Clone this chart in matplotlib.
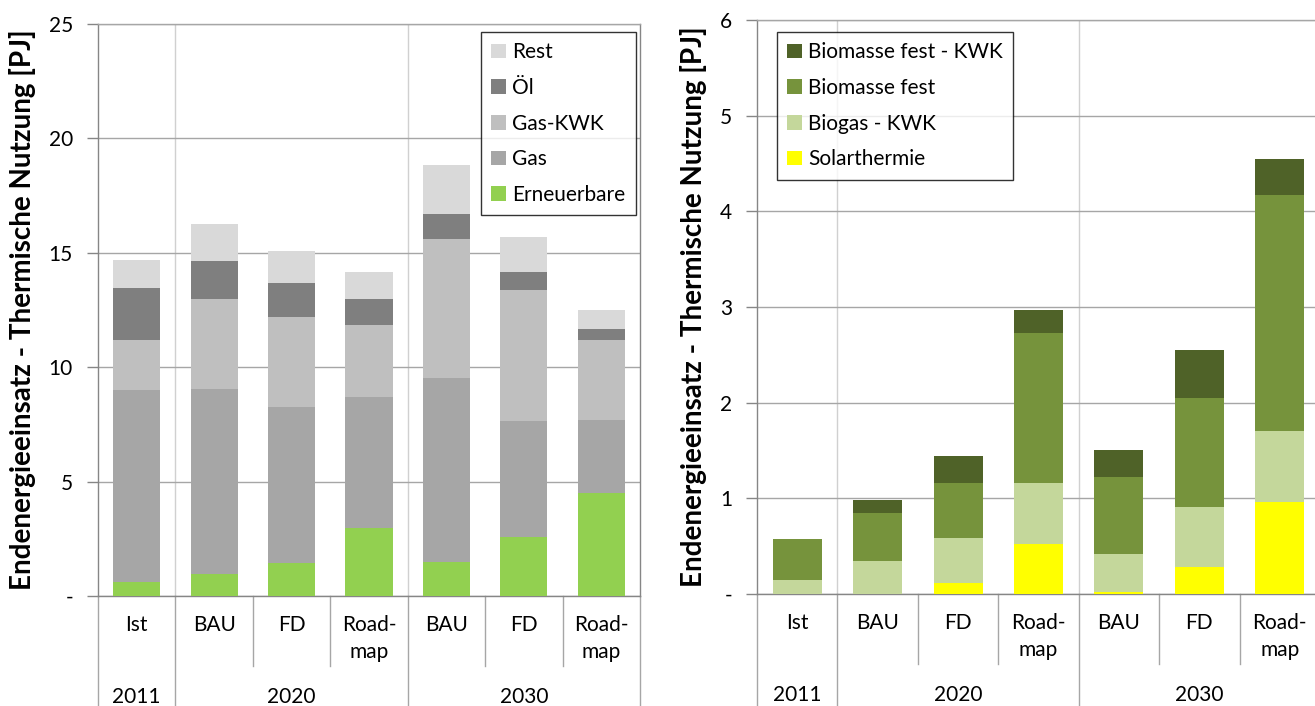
import numpy as np
import matplotlib.pyplot as plt
from matplotlib.transforms import blended_transform_factory

plt.rcParams['font.family'] = ['Lato', 'DejaVu Sans']

# category axis (two levels)
sub_labels = ['Ist', 'BAU', 'FD', 'Road-\nmap', 'BAU', 'FD', 'Road-\nmap']
years = ['2011', '2020', '2030']
year_spans = [(0, 0), (1, 3), (4, 6)]

# left chart: total thermal use [PJ]
erneuerbare = [0.60, 0.96, 1.46, 2.99, 1.50, 2.56, 4.51]
gas = [8.42, 8.08, 6.81, 5.71, 8.03, 5.08, 3.17]
gas_kwk = [2.18, 3.95, 3.92, 3.13, 6.06, 5.73, 3.52]
oel = [2.24, 1.64, 1.47, 1.14, 1.10, 0.78, 0.45]
rest = [1.25, 1.65, 1.40, 1.18, 2.13, 1.54, 0.87]

# right chart: renewables split [PJ]
solarthermie = [0.00, 0.00, 0.11, 0.52, 0.02, 0.28, 0.96]
biogas_kwk = [0.15, 0.34, 0.48, 0.64, 0.40, 0.63, 0.74]
biomasse_fest = [0.42, 0.51, 0.57, 1.57, 0.80, 1.14, 2.47]
biomasse_fest_kwk = [0.00, 0.13, 0.28, 0.24, 0.28, 0.50, 0.38]

W, H = 1315, 706
fig = plt.figure(figsize=(W / 100, H / 100), dpi=100)

GRID = '#a6a6a6'
SPINE = '#868686'
FS = 15


def px_axes(x0, y_top, x1, y_bot):
    return fig.add_axes([x0 / W, (H - y_bot) / H, (x1 - x0) / W, (y_bot - y_top) / H])


def stacked(ax, series, colors, labels):
    x = np.arange(len(sub_labels))
    bottom = np.zeros(len(x))
    handles = []
    for vals, col, lab in zip(series, colors, labels):
        h = ax.bar(x, vals, width=0.61, bottom=bottom, color=col, label=lab, zorder=3)
        bottom += np.array(vals)
        handles.append(h)
    return handles


def style_axes(ax, ymax, step, ax_h_px):
    ax.set_xlim(-0.5, len(sub_labels) - 0.5)
    ax.set_ylim(0, ymax)
    ticks = np.arange(0, ymax + step / 2, step)
    ax.set_yticks(ticks)
    ax.set_yticklabels(['-'] + [f'{t:g}' for t in ticks[1:]])
    ax.tick_params(axis='y', length=8, width=1, color=SPINE, pad=10, labelsize=FS)
    ax.set_xticks([])
    ax.grid(axis='y', color=GRID, lw=1, zorder=0)
    for s in ax.spines.values():
        s.set_color(SPINE)
        s.set_linewidth(1)
    ax.spines['top'].set_color(GRID)
    # vertical separators between year groups
    for a, b in year_spans[1:]:
        ax.axvline(a - 0.5, color='#d0d0d0', lw=1, zorder=1)

    # two-level category labels below the plot
    tr = blended_transform_factory(ax.transData, ax.transAxes)
    inner = -70 / ax_h_px
    outer = -130 / ax_h_px
    n = len(sub_labels)
    group_edges = {a - 0.5 for a, b in year_spans} | {n - 0.5}
    for i in range(n + 1):
        xe = i - 0.5
        y1 = outer if xe in group_edges else inner
        ax.plot([xe, xe], [0, y1], transform=tr, color=GRID, lw=1, clip_on=False)
    for i, lab in enumerate(sub_labels):
        ax.text(i, -19 / ax_h_px, lab, transform=tr, ha='center', va='top',
                fontsize=FS, linespacing=1.45)
    for yr, (a, b) in zip(years, year_spans):
        ax.text((a + b) / 2, -101 / ax_h_px, yr, transform=tr, ha='center', va='center',
                fontsize=FS)


YLABEL = 'Endenergieeinsatz - Thermische Nutzung [PJ]'

# left panel
axl = px_axes(98, 24, 640, 596)
hl = stacked(axl, [erneuerbare, gas, gas_kwk, oel, rest],
             ['#92d050', '#a6a6a6', '#bfbfbf', '#7f7f7f', '#d9d9d9'],
             ['Erneuerbare', 'Gas', 'Gas-KWK', 'Öl', 'Rest'])
style_axes(axl, 25, 5, 572)
axl.set_ylabel(YLABEL, fontsize=20, fontweight='bold', labelpad=9)
leg = axl.legend(handles=hl[::-1], loc='upper left', bbox_to_anchor=(481 / W, 1 - 32 / H),
                 bbox_transform=fig.transFigure, fontsize=FS, frameon=True, fancybox=False,
                 edgecolor='black', handlelength=0.7, handleheight=0.7, handletextpad=0.3,
                 labelspacing=0.75, borderpad=0.5, borderaxespad=0)
leg.get_frame().set_linewidth(1)

# right panel
axr = px_axes(757, 20, 1320, 594)
hr = stacked(axr, [solarthermie, biogas_kwk, biomasse_fest, biomasse_fest_kwk],
             ['#ffff00', '#c4d79b', '#76933c', '#4f6228'],
             ['Solarthermie', 'Biogas - KWK', 'Biomasse fest', 'Biomasse fest - KWK'])
style_axes(axr, 6, 1, 574)
axr.set_ylabel(YLABEL, fontsize=20, fontweight='bold', labelpad=9)
leg = axr.legend(handles=hr[::-1], loc='upper left', bbox_to_anchor=(777 / W, 1 - 32 / H),
                 bbox_transform=fig.transFigure, fontsize=FS, frameon=True, fancybox=False,
                 edgecolor='black', handlelength=0.7, handleheight=0.7, handletextpad=0.3,
                 labelspacing=0.75, borderpad=0.5, borderaxespad=0)
leg.get_frame().set_linewidth(1)

fig.savefig('out.png', dpi=100)
